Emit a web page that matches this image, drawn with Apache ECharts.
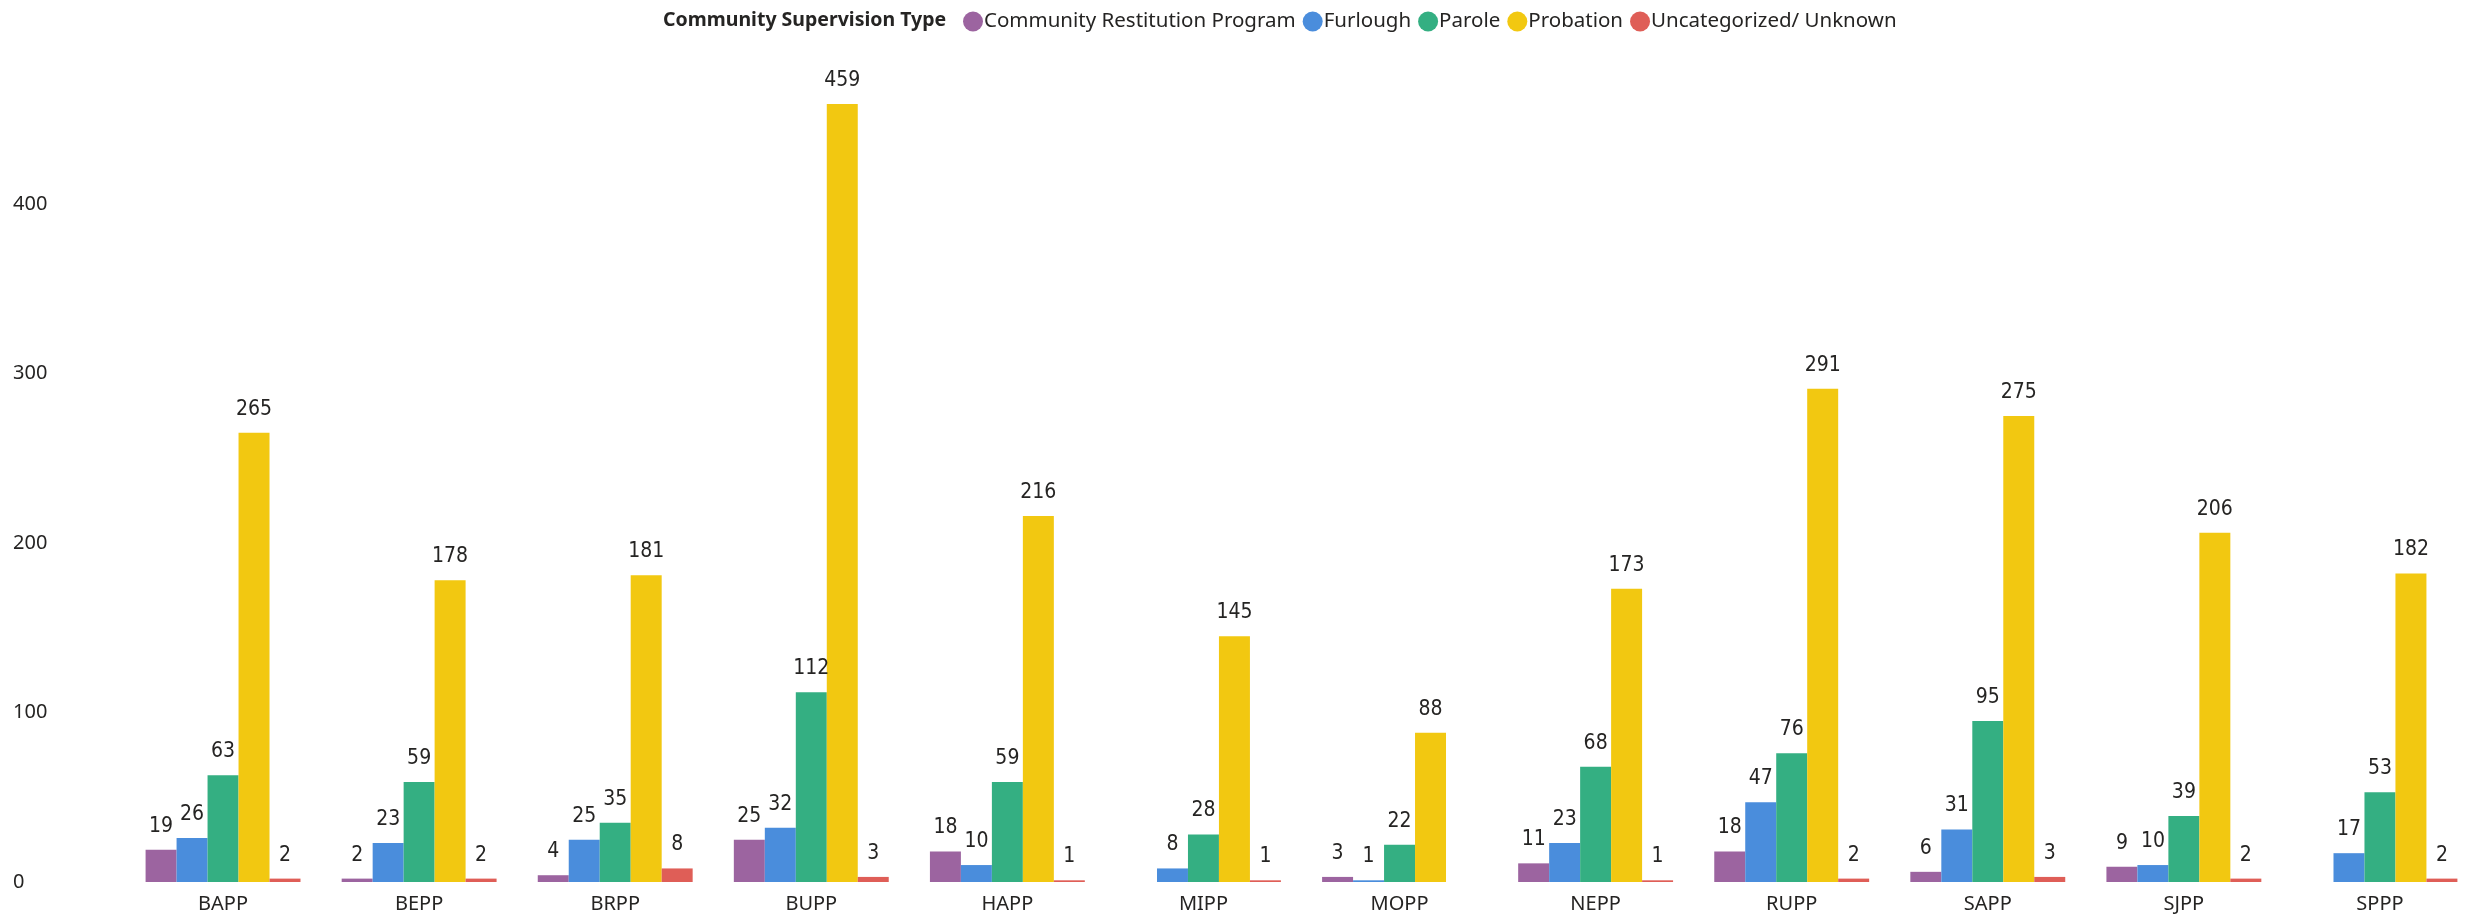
<!DOCTYPE html>
<html>
<head>
<meta charset="utf-8">
<script src="https://cdn.jsdelivr.net/npm/echarts@6/dist/echarts.min.js"></script>
<style>
html,body{margin:0;padding:0;background:#fff;}
#chart{width:2478px;height:916px;}
</style>
</head>
<body>
<div id="chart"></div>
<script>
const categories = ['BAPP','BEPP','BRPP','BUPP','HAPP','MIPP','MOPP','NEPP','RUPP','SAPP','SJPP','SPPP'];
const seriesNames = ['Community Restitution Program','Furlough','Parole','Probation','Uncategorized/ Unknown'];
const restitution = [19, 2, 4, 25, 18, null, 3, 11, 18, 6, 9, null];
const furlough    = [26, 23, 25, 32, 10, 8, 1, 23, 47, 31, 10, 17];
const parole      = [63, 59, 35, 112, 59, 28, 22, 68, 76, 95, 39, 53];
const probation   = [265, 178, 181, 459, 216, 145, 88, 173, 291, 275, 206, 182];
const unknown     = [2, 2, 8, 3, 1, 1, null, 1, 2, 3, 2, 2];
const yTicks = [0, 100, 200, 300, 400];

const colors = ['#9C64A0','#4A8DDC','#34AF82','#F2C811','#DF5E57'];
const values = [restitution, furlough, parole, probation, unknown];

const chart = echarts.init(document.getElementById('chart'));
const uiFont = '"Noto Sans", "Open Sans", sans-serif';
chart.setOption({
  animation: false,
  color: colors,
  title: {
    text: 'Community Supervision Type',
    left: 658, top: 5,
    textStyle: {fontFamily: uiFont, fontWeight: 'bold', fontSize: 19.5, color: '#252423'}
  },
  legend: {
    left: 958, top: 6,
    icon: 'circle', itemWidth: 20, itemHeight: 20, itemGap: 7,
    textStyle: {fontFamily: uiFont, fontSize: 20.5, color: '#252423', padding: [0,0,0,-4]},
    data: seriesNames
  },
  grid: {left: 125, right: 0, top: 60, bottom: 34, containLabel: false},
  xAxis: {
    type: 'category', data: categories,
    axisLine: {show: false}, axisTick: {show: false},
    axisLabel: {fontFamily: uiFont, fontSize: 20, color: '#252423', margin: 12}
  },
  yAxis: {
    type: 'value', min: yTicks[0], max: 485, interval: 100,
    splitLine: {show: false}, axisLine: {show: false}, axisTick: {show: false},
    axisLabel: {fontFamily: uiFont, fontSize: 20, color: '#252423', align: 'left', margin: 112, showMaxLabel: false}
  },
  series: seriesNames.map((name, i) => ({
    name, type: 'bar',
    data: values[i].map(v => v === null ? '-' : v),
    barGap: '0%', barCategoryGap: '21%',
    itemStyle: {color: colors[i]},
    label: {
      show: true, position: 'top', distance: 13,
      fontFamily: '"DejaVu Sans Condensed", "DejaVu Sans", sans-serif',
      fontSize: 21, fontWeight: 500, color: '#252423'
    }
  }))
});
</script>
</body>
</html>
